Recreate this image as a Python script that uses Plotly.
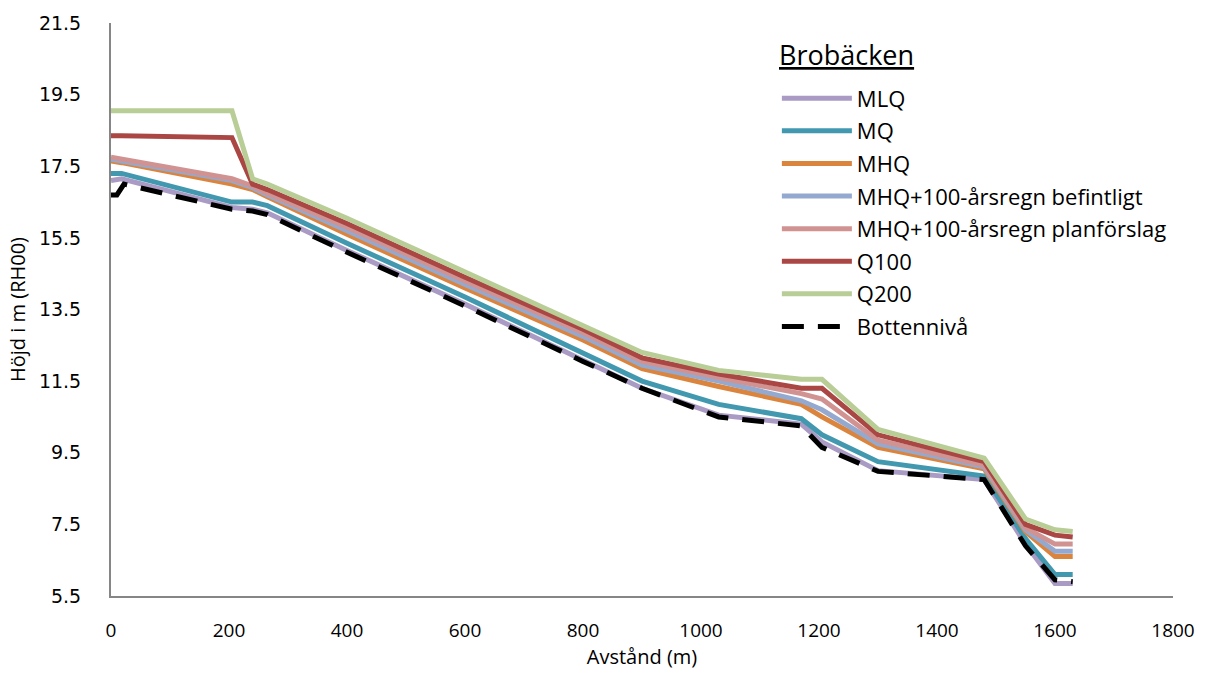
import plotly.graph_objects as go

distance = [0, 18, 205, 240, 265, 400, 600, 800, 900, 1030, 1170, 1205, 1300, 1480, 1550, 1600, 1630]
bottom_distance = [0, 10, 22, 205, 240, 265, 400, 600, 800, 900, 1030, 1170, 1205, 1300, 1480, 1550, 1600, 1630]

series_names = ["MLQ", "MQ", "MHQ", "MHQ+100-årsregn befintligt",
                "MHQ+100-årsregn planförslag", "Q100", "Q200", "Bottennivå"]
legend_title = "Brobäcken"

mlq = [17.1, 17.15, 16.35, 16.3, 16.2, 15.15, 13.65, 12.1, 11.3, 10.55, 10.3, 9.8, 9.0, 8.75, 6.95, 5.85, 5.85]
mq = [17.3, 17.3, 16.5, 16.5, 16.4, 15.35, 13.85, 12.3, 11.5, 10.85, 10.45, 10.0, 9.25, 8.85, 7.1, 6.1, 6.1]
mhq = [17.65, 17.6, 17.0, 16.85, 16.65, 15.6, 14.1, 12.65, 11.85, 11.35, 10.85, 10.5, 9.65, 9.05, 7.3, 6.6, 6.6]
mhq_bef = [17.7, 17.65, 17.1, 16.9, 16.7, 15.7, 14.2, 12.75, 11.95, 11.5, 10.95, 10.7, 9.75, 9.1, 7.35, 6.75, 6.75]
mhq_plan = [17.75, 17.7, 17.15, 16.95, 16.75, 15.8, 14.3, 12.85, 12.05, 11.6, 11.15, 11.0, 9.85, 9.15, 7.4, 6.95, 6.95]
q100 = [18.35, 18.35, 18.3, 17.0, 16.85, 15.9, 14.4, 12.95, 12.15, 11.7, 11.3, 11.3, 10.0, 9.25, 7.5, 7.2, 7.15]
q200 = [19.05, 19.05, 19.05, 17.15, 17.0, 16.05, 14.55, 13.05, 12.3, 11.8, 11.55, 11.55, 10.15, 9.35, 7.65, 7.35, 7.3]
bottom = [16.7, 16.7, 17.0, 16.3, 16.25, 16.15, 15.1, 13.6, 12.05, 11.3, 10.5, 10.25, 9.65, 8.98, 8.75, 6.9, 5.95, 5.9]

y_ticks = [5.5, 7.5, 9.5, 11.5, 13.5, 15.5, 17.5, 19.5, 21.5]
x_ticks = [0, 200, 400, 600, 800, 1000, 1200, 1400, 1600, 1800]

values = [mlq, mq, mhq, mhq_bef, mhq_plan, q100, q200, bottom]
colors = ["#A99BC3", "#4198AF", "#DB843D", "#93A9CF", "#D19392", "#AA4643", "#B9CD96", "#000000"]

FONT = "Open Sans"
fig = go.Figure()
for i, (name, vals, col) in enumerate(zip(series_names, values, colors)):
    is_bottom = name == "Bottennivå"
    fig.add_trace(go.Scatter(
        x=bottom_distance if is_bottom else distance, y=vals, name=name, mode="lines",
        line=dict(color=col, width=5, dash="22px,14px" if is_bottom else "solid"),
        legendgroup=f"g{i}",
    ))

fig.add_annotation(
    text=f"<u>{legend_title}</u>", xref="paper", yref="paper",
    x=0.627, y=1.0, xanchor="left", yanchor="middle", yshift=-31,
    showarrow=False, font=dict(size=27, family=FONT, color="#000000"),
)

fig.update_layout(
    width=1207, height=673,
    margin=dict(l=111, r=32, t=18, b=76),
    paper_bgcolor="white", plot_bgcolor="white",
    font=dict(family=FONT, color="#000000", size=19),
    showlegend=True,
    legend=dict(
        x=0.627, y=0.905, xanchor="left", yanchor="top",
        font=dict(size=22, family=FONT),
        itemwidth=70, tracegroupgap=1,
        bgcolor="rgba(0,0,0,0)",
    ),
    xaxis=dict(
        range=[0, 1800], tickvals=x_ticks, ticktext=[str(v) for v in x_ticks],
        showgrid=False, zeroline=False, showline=True, linecolor="#868686", linewidth=2,
        ticks="", ticklabelstandoff=16,
        title=dict(text="Avstånd (m)", font=dict(size=20), standoff=4),
        tickfont=dict(size=19),
    ),
    yaxis=dict(
        range=[5.5, 21.5], tickvals=y_ticks, ticktext=[f"{v:.1f}" for v in y_ticks],
        showgrid=False, zeroline=False, showline=True, linecolor="#868686", linewidth=2,
        ticks="", ticklabelstandoff=24,
        title=dict(text="Höjd i m (RH00)", font=dict(size=20), standoff=8),
        tickfont=dict(size=19, family="DejaVu Sans"),
    ),
)

fig.write_html("out.html")
